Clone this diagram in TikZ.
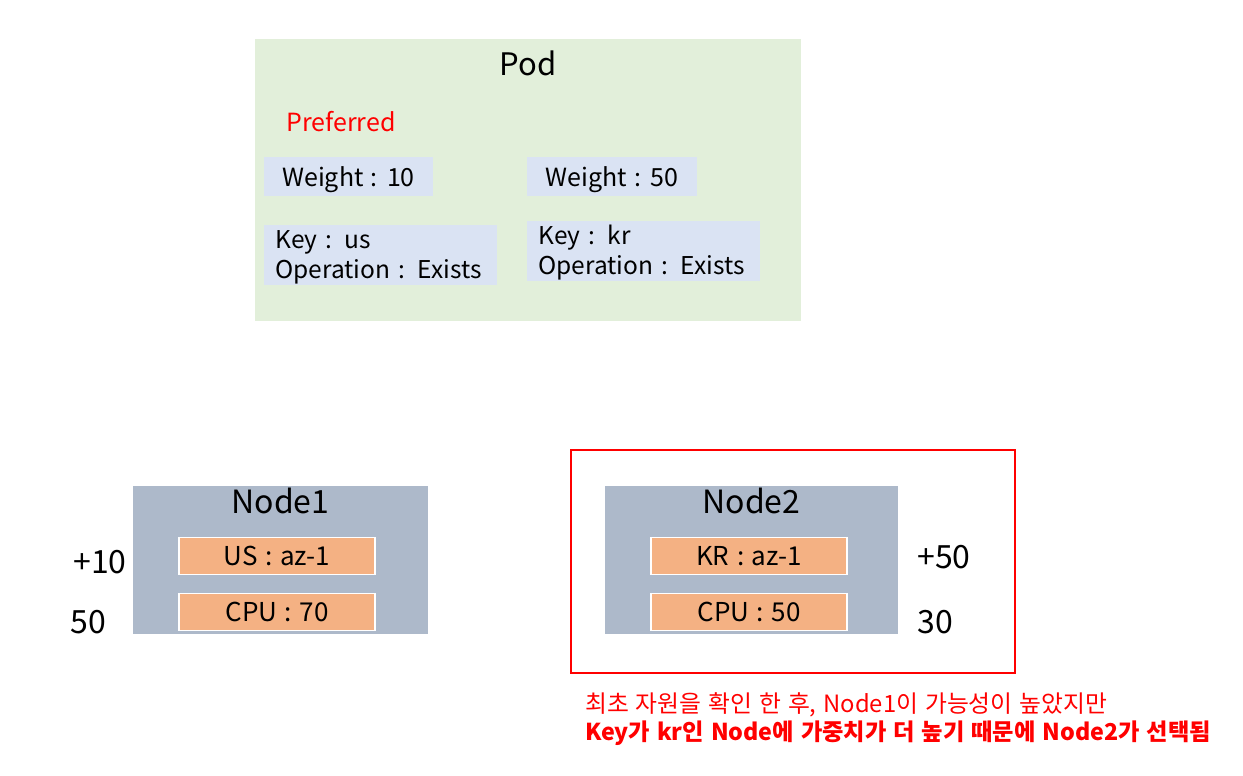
\documentclass[tikz,border=0pt]{standalone}
\usepackage{fontspec}
\setmainfont[WordSpace=1.3]{Noto Sans CJK KR}
\usetikzlibrary{positioning}
\definecolor{podgreen}{RGB}{226,239,218}
\definecolor{rulebl}{RGB}{218,227,243}
\definecolor{hostgray}{RGB}{173,185,202}
\definecolor{zoneor}{RGB}{244,177,131}
\definecolor{alertred}{RGB}{255,0,0}
\newcommand{\fs}[1]{\fontsize{#1}{#1}\selectfont}

\begin{document}
\begin{tikzpicture}[x=1pt, y=-1pt,
      podbox/.style={fill=podgreen, minimum width=546pt, minimum height=282pt, inner sep=0pt},
      rulebox/.style={fill=rulebl, inner sep=0pt, minimum height=39pt, text depth=0pt, font=\fs{25}},
      keybox/.style={fill=rulebl, inner ysep=0pt, inner xsep=11.5pt, minimum height=60pt, text width=210pt, text height=18pt, text depth=32pt, align=left, font=\fs{24.5}, execute at begin node=\setlength{\baselineskip}{30.5pt}},
      hostbox/.style={fill=hostgray, minimum width=295pt, minimum height=148pt, inner sep=0pt},
      zonebox/.style={fill=zoneor, draw=white, line width=1.5pt, minimum width=196pt, minimum height=37pt, inner sep=0pt, text depth=0pt, font=\fs{26}},
      score/.style={font=\fs{32}, inner sep=0pt},
      title/.style={font=\fs{32}, inner sep=0pt}
    ]
    \useasboundingbox (0,0) rectangle (1243,776);

    \node[podbox] (pod) at (528,180) {};
    \node[title, font=\fs{31}] (podTitle) at (528,63) {Pod};
    \node[font=\fs{25}, text=alertred, anchor=west, inner sep=0pt] (pref) at (286,122) {Preferred};
    \node[rulebox, minimum width=169pt] (weightUs) at (348.5,176.5) {Weight : 10};
    \node[rulebox, minimum width=170pt] (weightKr) at (612,176.5) {Weight : 50};
    \node[keybox] (keyUs) at (380.5,255) {Key : us\\\mbox{Operation : Exists}};
    \node[keybox] (keyKr) at (643.5,251) {Key : kr\\\mbox{Operation : Exists}};

    \node[hostbox] (node1) at (280.5,560) {};
    \node[title] (node1Title) at (280.5,501) {Node1};
    \node[zonebox] (usZone) at (277,556) {US : az-1};
    \node[zonebox] (cpuOne) at (277,612) {CPU : 70};
    \node[score] (plusUs) at (100,562) {+10};
    \node[score] (freeOne) at (88,622) {50};

    \node[draw=alertred, line width=2pt, minimum width=444pt, minimum height=223pt, inner sep=0pt] (pick) at (793,561.5) {};
    \node[hostbox, minimum width=293pt] (node2) at (751.5,559.5) {};
    \node[title] (node2Title) at (751.5,501) {Node2};
    \node[zonebox] (krZone) at (749,556) {KR : az-1};
    \node[zonebox] (cpuTwo) at (749,612) {CPU : 50};
    \node[score] (plusKr) at (944,557) {+50};
    \node[score] (freeTwo) at (935,622) {30};

    \node[text=alertred, font=\fs{23.8}, anchor=west, inner sep=0pt] (noteA) at (585,705) {최초 자원을 확인 한 후, Node1이 가능성이 높았지만};
    \node[text=alertred, font=\fs{23.25}\bfseries, anchor=west, inner sep=0pt] (noteB) at (585,733) {Key가 kr인 Node에 가중치가 더 높기 때문에 Node2가 선택됨};
  \end{tikzpicture}
\end{document}
